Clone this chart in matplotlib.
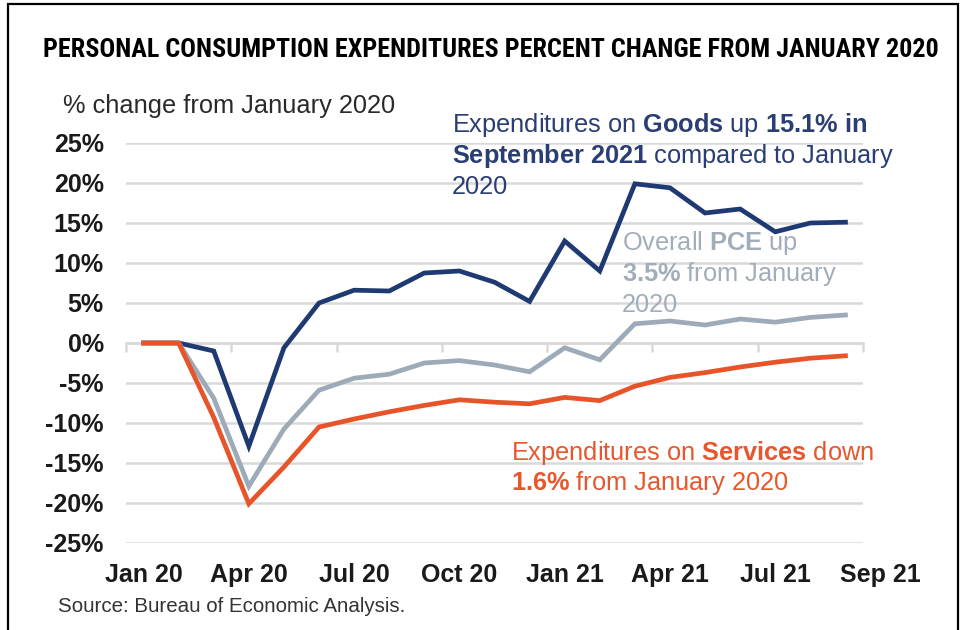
import matplotlib
matplotlib.use("Agg")
import matplotlib.pyplot as plt
from matplotlib import font_manager
from matplotlib.lines import Line2D

# ---------------- data ----------------
months = ['Jan 20', 'Feb 20', 'Mar 20', 'Apr 20', 'May 20', 'Jun 20', 'Jul 20',
          'Aug 20', 'Sep 20', 'Oct 20', 'Nov 20', 'Dec 20', 'Jan 21', 'Feb 21',
          'Mar 21', 'Apr 21', 'May 21', 'Jun 21', 'Jul 21', 'Aug 21', 'Sep 21']
goods = [0, 0, -1.0, -12.9, -0.6, 5.0, 6.6, 6.5, 8.75, 9.0, 7.6, 5.2, 12.75,
         9.0, 19.9, 19.4, 16.25, 16.75, 13.9, 15.0, 15.1]
pce = [0, 0, -6.9, -17.9, -10.75, -5.9, -4.4, -3.9, -2.5, -2.2, -2.75, -3.6,
       -0.6, -2.1, 2.4, 2.75, 2.25, 3.0, 2.6, 3.2, 3.5]
services = [0, 0, -9.3, -20.1, -15.5, -10.5, -9.5, -8.6, -7.8, -7.1, -7.4,
            -7.6, -6.8, -7.2, -5.4, -4.3, -3.7, -3.0, -2.4, -1.9, -1.6]
x_tick_labels = ['Jan 20', 'Apr 20', 'Jul 20', 'Oct 20', 'Jan 21', 'Apr 21',
                 'Jul 21', 'Sep 21']
y_ticks = [25, 20, 15, 10, 5, 0, -5, -10, -15, -20, -25]

title = 'PERSONAL CONSUMPTION EXPENDITURES PERCENT CHANGE FROM JANUARY 2020'
y_label = '% change from January 2020'
source = 'Source: Bureau of Economic Analysis.'

# ---------------- fonts ----------------
available = {f.name for f in font_manager.fontManager.ttflist}
def pick(cands):
    for c in cands:
        if c in available:
            return c
    return 'DejaVu Sans'

BODY = pick(['Liberation Sans', 'Arimo', 'DejaVu Sans'])
NARROW = pick(['Liberation Sans Narrow', 'Arial Narrow', 'Roboto Condensed',
               'DejaVu Sans Condensed', BODY])

plt.rcParams['font.family'] = [BODY, 'DejaVu Sans']
plt.rcParams['mathtext.fontset'] = 'custom'
plt.rcParams['mathtext.rm'] = BODY
plt.rcParams['mathtext.bf'] = BODY + ':bold'
plt.rcParams['mathtext.it'] = BODY + ':italic'

W, H = 965, 630
fig = plt.figure(figsize=(W / 100, H / 100), dpi=100)
fig.patch.set_facecolor('white')

def fx(px):
    return px / W

def fy(py):
    return 1 - py / H

NAVY = '#1F3A72'
GRAY = '#9DAAB7'
ORANGE = '#E8542A'
GRID = '#D9D9D9'

left, right, top, bottom = 126, 863, 143, 543
ax = fig.add_axes([fx(left), fy(bottom), fx(right - left), (bottom - top) / H])

n = len(months)
xs = list(range(n))
ax.plot(xs, goods, color=NAVY, lw=3.4, solid_joinstyle='miter', zorder=3)
ax.plot(xs, pce, color=GRAY, lw=3.4, solid_joinstyle='miter', zorder=4)
ax.plot(xs, services, color=ORANGE, lw=3.4, solid_joinstyle='miter', zorder=5)

ax.set_xlim(-0.5, n - 0.5)
ax.set_ylim(-25, 25)
ax.set_yticks(y_ticks)
ax.set_yticklabels([f'{v}%' for v in y_ticks], fontsize=18, fontweight='bold',
                   color='#1a1a1a')
ax.tick_params(axis='y', length=0, pad=16)
ax.yaxis.grid(True, color=GRID, lw=1.8)
ax.set_axisbelow(True)
for s in ['left', 'right', 'top']:
    ax.spines[s].set_visible(False)
ax.spines['bottom'].set_position(('data', 0))
ax.spines['bottom'].set_color(GRID)
ax.spines['bottom'].set_linewidth(1.8)
ax.spines['bottom'].set_zorder(1)

# category boundaries every three months as tick marks on the zero line
bounds = [b - 0.5 for b in range(0, n + 1, 3)] + [n - 0.5]
ax.set_xticks(sorted(set(bounds)))
ax.set_xticklabels([])
ax.tick_params(axis='x', direction='out', length=6.5, width=1.8, color=GRID)

# month labels below the plot
label_pos = list(range(0, n, 3)) + [n]
label_pos = label_pos[:len(x_tick_labels)]
for p, lab in zip(label_pos, x_tick_labels):
    ax.text(p, -29.9, lab, ha='center', va='baseline', fontsize=18,
            fontweight='bold', color='#1a1a1a', clip_on=False)

# ---------------- texts ----------------
fig.text(fx(491), fy(57), title, ha='center', va='baseline', fontsize=18.8,
         fontweight='bold', family=[NARROW, 'DejaVu Sans'], color='black')
fig.text(fx(63), fy(113), y_label, ha='left', va='baseline', fontsize=18.3,
         color='#2a2a2a')
fig.text(fx(58), fy(612), source, ha='left', va='baseline', fontsize=14.8,
         color='#333333')

ANN = 18.3
goods_lines = [r'Expenditures on $\mathbf{Goods}$ up $\mathbf{15.1\%\ in}$',
               r'$\mathbf{September\ 2021}$ compared to January',
               '2020']
for i, s in enumerate(goods_lines):
    fig.text(fx(452), fy(132 + 31 * i), s, ha='left', va='baseline',
             fontsize=ANN, color='#2A3D74')

pce_lines = [r'Overall $\mathbf{PCE}$ up',
             r'$\mathbf{3.5\%}$ from January',
             '2020']
for i, s in enumerate(pce_lines):
    fig.text(fx(622), fy(250 + 31 * i), s, ha='left', va='baseline',
             fontsize=ANN, color='#A2ADB9', zorder=10)

serv_lines = [r'Expenditures on $\mathbf{Services}$ down',
              r'$\mathbf{1.6\%}$ from January 2020']
for i, s in enumerate(serv_lines):
    fig.text(fx(511), fy(460 + 30 * i), s, ha='left', va='baseline',
             fontsize=ANN, color='#E8562D')

# frame around the graphic (open at the bottom)
frame = Line2D([fx(8), fx(8), fx(958), fx(958)], [0, fy(4), fy(4), 0],
               transform=fig.transFigure, color='black', lw=1.6,
               solid_joinstyle='miter')
fig.add_artist(frame)

fig.savefig('out.png', dpi=100, facecolor='white')
